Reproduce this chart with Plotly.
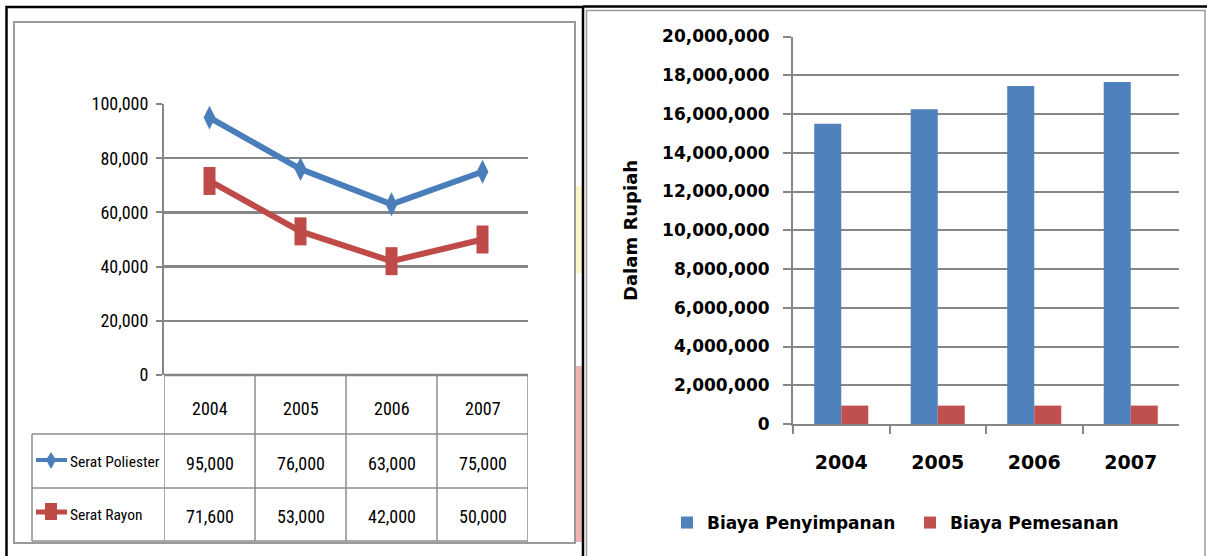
import plotly.graph_objects as go

W, H = 1207, 556

# ---------------- data ----------------
years = ['2004', '2005', '2006', '2007']
serat_poliester = [95000, 76000, 63000, 75000]
serat_rayon = [71600, 53000, 42000, 50000]
left_ytick_vals = [0, 20000, 40000, 60000, 80000, 100000]

biaya_penyimpanan = [15500000, 16250000, 17450000, 17650000]
biaya_pemesanan = [950000, 950000, 950000, 950000]
right_ytick_vals = list(range(0, 20000001, 2000000))

series_names_left = ['Serat Poliester', 'Serat Rayon']
series_names_right = ['Biaya Penyimpanan', 'Biaya Pemesanan']
y_title_right = 'Dalam Rupiah'

# ---------------- style ----------------
BLUE = '#4A7EBB'
RED = '#BE4B48'
BAR_BLUE = '#4F81BD'
BAR_RED = '#C0504D'
GRID = '#868686'
TBL = '#8C8C8C'
NARROW = 'Liberation Sans Narrow, Arial Narrow, Roboto Condensed, Liberation Sans, sans-serif'
WIDE = 'DejaVu Sans, Verdana, sans-serif'


def px(x):
    return x / W


def py(y):
    return 1 - y / H


def fmt(v):
    return f'{v:,}'


fig = go.Figure()

# left chart lines
fig.add_trace(go.Scatter(
    x=years, y=serat_poliester, mode='lines+markers', name=series_names_left[0],
    line=dict(color=BLUE, width=6),
    marker=dict(symbol='diamond-tall', size=17, color=BLUE),
    xaxis='x', yaxis='y', showlegend=False, hoverinfo='skip'))
fig.add_trace(go.Scatter(
    x=years, y=serat_rayon, mode='lines+markers', name=series_names_left[1],
    line=dict(color=RED, width=6),
    marker=dict(symbol='line-ns', size=20, color=RED, line=dict(color=RED, width=12)),
    xaxis='x', yaxis='y', showlegend=False, hoverinfo='skip'))

# right chart bars
fig.add_trace(go.Bar(
    x=years, y=biaya_penyimpanan, name=series_names_right[0],
    marker=dict(color=BAR_BLUE, line=dict(width=0)),
    xaxis='x2', yaxis='y2', legend='legend', hoverinfo='skip'))
fig.add_trace(go.Bar(
    x=years, y=biaya_pemesanan, name=series_names_right[1],
    marker=dict(color=BAR_RED, line=dict(width=0)),
    xaxis='x2', yaxis='y2', legend='legend2', hoverinfo='skip'))

shapes = []
annotations = []

# faint background watermark pieces visible between the panels
shapes.append(dict(type='rect', xref='paper', yref='paper', x0=px(576), x1=px(582),
                   y0=py(273), y1=py(186), fillcolor='#FBF6C8', line=dict(width=0), layer='below'))
shapes.append(dict(type='rect', xref='paper', yref='paper', x0=px(576), x1=px(582),
                   y0=py(542), y1=py(366), fillcolor='#F1B3B1', line=dict(width=0), layer='below'))

# panel borders
shapes.append(dict(type='rect', xref='paper', yref='paper',
                   x0=px(6.5), x1=px(583), y0=py(600), y1=py(7),
                   line=dict(color='black', width=2.5), layer='below'))
shapes.append(dict(type='line', xref='paper', yref='paper',
                   x0=px(583), x1=px(1207), y0=py(6.5), y1=py(6.5),
                   line=dict(color='black', width=2.5)))
shapes.append(dict(type='rect', xref='paper', yref='paper',
                   x0=px(14), x1=px(575), y0=py(543), y1=py(22),
                   line=dict(color='#9A9A9A', width=2), layer='below'))
shapes.append(dict(type='rect', xref='paper', yref='paper',
                   x0=px(586.5), x1=px(1205), y0=py(600), y1=py(10.5),
                   line=dict(color='#9A9A9A', width=1.5), layer='below'))

# data table under the left chart
row_lines = [375, 434, 488, 541]
for i, yy in enumerate(row_lines):
    if i == 0:
        shapes.append(dict(type='line', xref='x', yref='paper', x0=-0.5, x1=3.5,
                           y0=py(yy), y1=py(yy), line=dict(color=GRID, width=2.5)))
    else:
        shapes.append(dict(type='line', xref='paper', yref='paper', x0=px(32), x1=px(528),
                           y0=py(yy), y1=py(yy), line=dict(color=TBL, width=1.5)))
for k in range(len(years) + 1):
    shapes.append(dict(type='line', xref='x', yref='paper', x0=k - 0.5, x1=k - 0.5,
                       y0=py(375), y1=py(541), line=dict(color=TBL, width=1.5)))
shapes.append(dict(type='line', xref='paper', yref='paper', x0=px(32), x1=px(32),
                   y0=py(434), y1=py(541), line=dict(color=TBL, width=1.5)))

cell_font = dict(family=NARROW, size=18, color='black')
for i, yr in enumerate(years):
    annotations.append(dict(xref='x', yref='paper', x=i, y=py(408), text=yr,
                            xanchor='center', yanchor='middle', showarrow=False, font=cell_font))
    annotations.append(dict(xref='x', yref='paper', x=i, y=py(463), text=fmt(serat_poliester[i]),
                            xanchor='center', yanchor='middle', showarrow=False, font=cell_font))
    annotations.append(dict(xref='x', yref='paper', x=i, y=py(516), text=fmt(serat_rayon[i]),
                            xanchor='center', yanchor='middle', showarrow=False, font=cell_font))

# legend keys in table
for name, yy in zip(series_names_left, [462, 515]):
    annotations.append(dict(xref='paper', yref='paper', x=px(68), y=py(yy), text=name,
                            xanchor='left', yanchor='middle', showarrow=False,
                            font=dict(family=NARROW, size=15.5, color='black')))
shapes.append(dict(type='line', xref='paper', yref='paper', x0=px(36), x1=px(67),
                   y0=py(460), y1=py(460), line=dict(color=BLUE, width=4)))
shapes.append(dict(type='path', xref='paper', yref='paper',
                   path=f'M {px(51)},{py(452)} L {px(56)},{py(460)} L {px(51)},{py(469)} L {px(46)},{py(460)} Z',
                   fillcolor=BLUE, line=dict(width=0)))
shapes.append(dict(type='line', xref='paper', yref='paper', x0=px(36), x1=px(67),
                   y0=py(512), y1=py(512), line=dict(color=RED, width=5)))
shapes.append(dict(type='rect', xref='paper', yref='paper', x0=px(45), x1=px(57),
                   y0=py(520), y1=py(503), fillcolor=RED, line=dict(width=0)))

# right y-axis title
annotations.append(dict(xref='paper', yref='paper', x=px(630), y=py(231), text=y_title_right,
                        xanchor='center', yanchor='middle',
                        textangle=-90, showarrow=False,
                        font=dict(family=WIDE, size=18, color='black', weight='bold')))

fig.update_layout(
    template='none',
    width=W, height=H,
    margin=dict(l=0, r=0, t=0, b=0, pad=0, autoexpand=False),
    paper_bgcolor='white', plot_bgcolor='rgba(0,0,0,0)',
    barmode='group', bargap=0.44, bargroupgap=0,
    showlegend=True,
    xaxis=dict(domain=[px(164), px(528)], type='category', range=[-0.5, 3.5],
               showticklabels=False, showgrid=False, showline=False, zeroline=False,
               ticks='', anchor='y', fixedrange=True, automargin=False),
    yaxis=dict(domain=[py(375), py(104)], range=[0, 100000],
               tickvals=left_ytick_vals, ticktext=[fmt(v) for v in left_ytick_vals],
               showgrid=True, gridcolor=GRID, gridwidth=2.5,
               showline=True, linecolor=GRID, linewidth=2,
               ticks='outside', ticklen=6, tickwidth=2, tickcolor=GRID,
               ticklabelstandoff=4,
               zeroline=False, anchor='x', automargin=False,
               tickfont=dict(family=NARROW, size=18, color='black'), fixedrange=True),
    xaxis2=dict(domain=[px(793), px(1179)], type='category', range=[-0.5, 3.5],
                showline=True, linecolor=GRID, linewidth=2,
                ticks='outside', tickson='boundaries', ticklen=8, tickwidth=2, tickcolor=GRID,
                ticklabelstandoff=20,
                showgrid=False, zeroline=False, anchor='y2', automargin=False,
                tickfont=dict(family=WIDE, size=19, color='black', weight='bold'), fixedrange=True),
    yaxis2=dict(domain=[py(424), py(36.5)], range=[0, 20000000],
                tickvals=right_ytick_vals, ticktext=[fmt(v) for v in right_ytick_vals],
                showgrid=True, gridcolor=GRID, gridwidth=2,
                showline=True, linecolor=GRID, linewidth=2,
                ticks='outside', ticklen=8, tickwidth=2, tickcolor=GRID,
                ticklabelstandoff=10,
                zeroline=False, anchor='x2', automargin=False,
                tickfont=dict(family=WIDE, size=17, color='black', weight='bold'), fixedrange=True),
    legend=dict(x=px(667), y=py(523), xanchor='left', yanchor='middle',
                orientation='h', bgcolor='rgba(0,0,0,0)', borderwidth=0,
                font=dict(family=WIDE, size=17, color='black', weight='bold')),
    legend2=dict(x=px(910), y=py(523), xanchor='left', yanchor='middle',
                 orientation='h', bgcolor='rgba(0,0,0,0)', borderwidth=0,
                 font=dict(family=WIDE, size=17, color='black', weight='bold')),
    shapes=shapes,
    annotations=annotations,
)

fig.write_html('out.html', config={'displayModeBar': False, 'staticPlot': True})
